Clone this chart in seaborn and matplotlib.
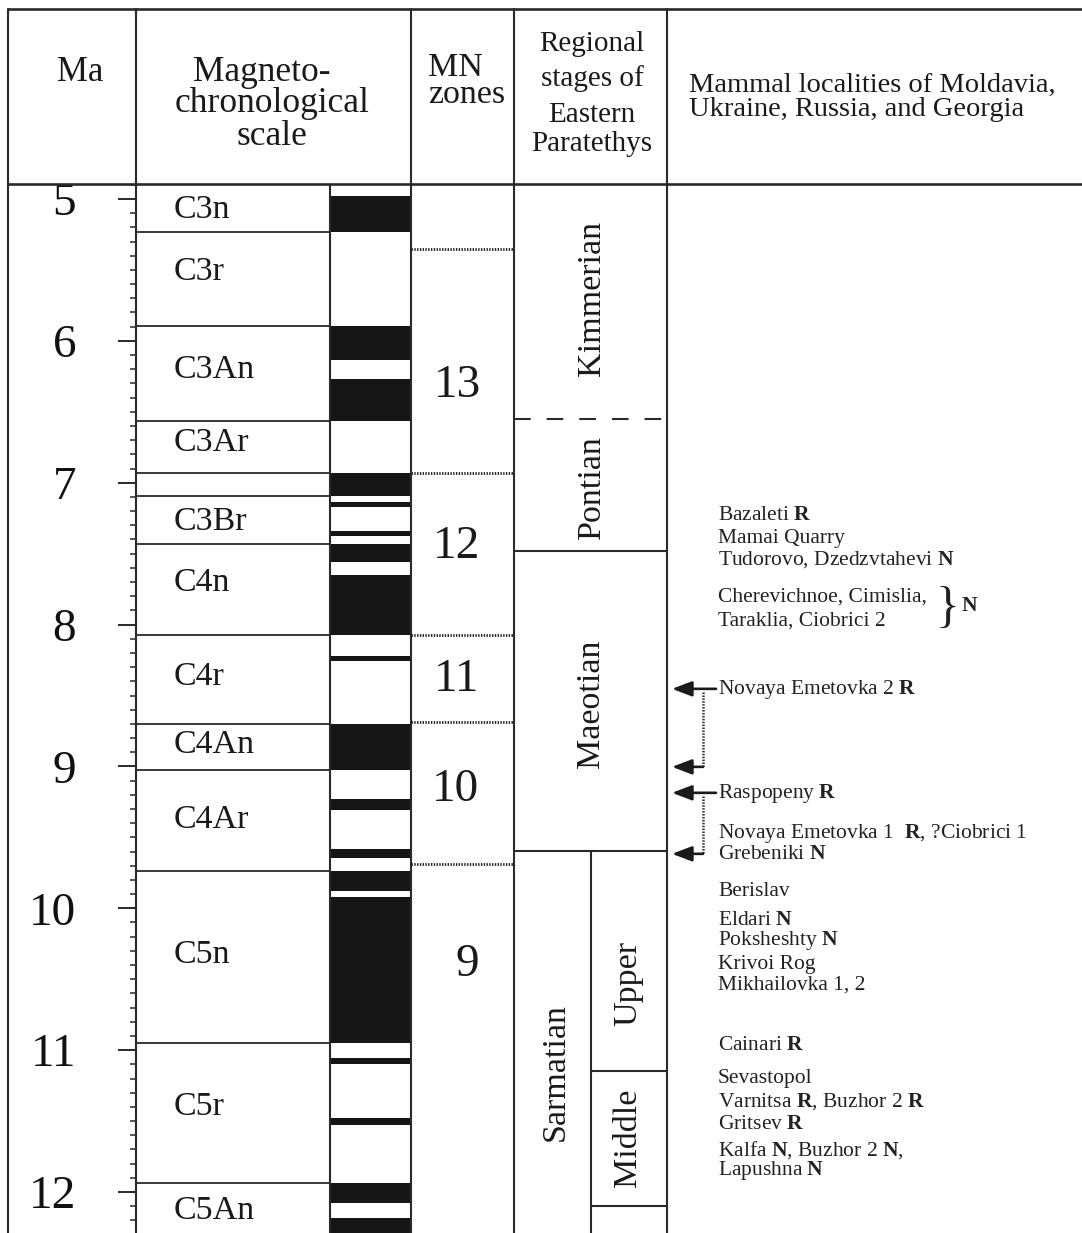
import numpy as np
import matplotlib
matplotlib.use("Agg")
import matplotlib.pyplot as plt
from matplotlib.ticker import MultipleLocator
import seaborn as sns

# ---------------- data ----------------
ma_ticks = [5, 6, 7, 8, 9, 10, 11, 12]

chron_names = ["C3n", "C3r", "C3An", "C3Ar", "C3Br", "C4n", "C4r", "C4An",
               "C4Ar", "C5n", "C5r", "C5An"]
chron_label_ma = [5.078, 5.514, 6.205, 6.72, 7.275, 7.706, 8.369, 8.848,
                  9.376, 10.328, 11.399, 12.132]
chron_boundaries = [5.23, 5.894, 6.567, 6.935, 7.091, 7.432, 8.072, 8.699,
                    9.025, 9.740, 10.949, 11.935]

# normal-polarity intervals (black)
normal_top = [4.98, 5.894, 6.269, 6.935, 7.135, 7.341, 7.432, 7.650, 8.225,
              8.699, 9.230, 9.580, 9.740, 9.920, 11.052, 11.476, 11.935, 12.184]
normal_base = [5.23, 6.137, 6.567, 7.091, 7.170, 7.375, 7.562, 8.072, 8.257,
               9.025, 9.308, 9.642, 9.880, 10.949, 11.099, 11.531, 12.078, 12.401]

mn_zones = ["13", "12", "11", "10", "9"]
mn_label_ma = [6.318, 7.452, 8.390, 9.165, 10.398]
mn_label_x = [457, 457, 457, 455, 467]
mn_boundaries = [5.35, 6.93, 8.07, 8.69, 9.69]

stage_names = ["Kimmerian", "Pontian", "Maeotian", "Sarmatian"]
stage_label_ma = [5.698, 7.030, 8.559, 11.152]
stage_label_x = [592, 592, 591, 556]
stage_dashed = [6.55]
stage_solid = [7.481, 9.595]
substage_names = ["Upper", "Middle"]
substage_label_ma = [10.532, 11.617]
substage_boundaries = [11.145, 12.097]
sarmatian_top = 9.595

localities = [
    "Bazaleti $\\mathbf{R}$",
    "Mamai Quarry",
    "Tudorovo, Dzedzvtahevi $\\mathbf{N}$",
    "Cherevichnoe, Cimislia,",
    "Taraklia, Ciobrici 2",
    "Novaya Emetovka 2 $\\mathbf{R}$",
    "Raspopeny $\\mathbf{R}$",
    "Novaya Emetovka 1  $\\mathbf{R}$, ?Ciobrici 1",
    "Grebeniki $\\mathbf{N}$",
    "Berislav",
    "Eldari $\\mathbf{N}$",
    "Poksheshty $\\mathbf{N}$",
    "Krivoi Rog",
    "Mikhailovka 1, 2",
    "Cainari $\\mathbf{R}$",
    "Sevastopol",
    "Varnitsa $\\mathbf{R}$, Buzhor 2 $\\mathbf{R}$",
    "Gritsev $\\mathbf{R}$",
    "Kalfa $\\mathbf{N}$, Buzhor 2 $\\mathbf{N}$,",
    "Lapushna $\\mathbf{N}$",
]
locality_ma = [7.234, 7.396, 7.544, 7.805, 7.974, 8.460, 9.193, 9.475, 9.623,
               9.884, 10.088, 10.229, 10.398, 10.539, 10.969, 11.201, 11.364,
               11.526, 11.702, 11.850]

# arrows: (start Ma, end Ma) pairs linked by dotted line
arrow_pairs = [(8.453, 9.003), (9.186, 9.616)]

# ---------------- style ----------------
sns.set_theme(style="white")
plt.rcParams["font.family"] = ["Liberation Serif", "DejaVu Serif"]
plt.rcParams["mathtext.fontset"] = "custom"
plt.rcParams["mathtext.rm"] = "Liberation Serif"
plt.rcParams["mathtext.it"] = "Liberation Serif:italic"
plt.rcParams["mathtext.bf"] = "Liberation Serif:bold"
plt.rcParams["lines.scale_dashes"] = False

LC = "#2a2a2a"
BLK = "#161616"
LW = 1.5

W, H = 1082, 1233
HEAD = 184
fig = plt.figure(figsize=(W / 100, H / 100), dpi=100)
fig.patch.set_facecolor("white")

y_top = 5 + (HEAD - 199) / 141.86
y_bot = 5 + (H - 199) / 141.86

# ---------------- data axes ----------------
ax = fig.add_axes([0, 0, 1, (H - HEAD) / H])
ax.set_facecolor("white")
ax.set_xlim(0, W)
ax.set_ylim(y_bot, y_top)
sns.despine(ax=ax, top=True, right=True, bottom=True, left=False)
ax.spines["left"].set_position(("data", 136))
ax.spines["left"].set_color(LC)
ax.spines["left"].set_linewidth(LW)
ax.set_xticks([])
ax.set_yticks(ma_ticks)
ax.set_yticklabels([str(v) for v in ma_ticks])
ax.yaxis.set_minor_locator(MultipleLocator(0.1))
ax.tick_params(axis="y", which="major", direction="out", length=13, width=1.4,
               pad=30, labelsize=34, color=LC, labelcolor="#111", left=True)
ax.tick_params(axis="y", which="minor", direction="out", length=4.5, width=1.1,
               color=LC, left=True)

# polarity column
ax.bar(x=[370.5] * len(normal_top),
       height=np.subtract(normal_base, normal_top),
       bottom=normal_top, width=81, color=BLK, linewidth=0, zorder=2)

# column borders
ax.vlines([8, 330, 411, 514, 667], y_top, y_bot, color=LC, lw=LW, zorder=3)
ax.vlines([591], sarmatian_top, y_bot, color=LC, lw=LW, zorder=3)

# chron boundaries
ax.hlines(chron_boundaries, 136, 330, color=LC, lw=1.3, zorder=3)
for name, m in zip(chron_names, chron_label_ma):
    ax.text(174, m, name, fontsize=24.5, ha="left", va="center", color="#1a1a1a")

# MN zones
ax.hlines(mn_boundaries, 411, 514, color="#222", lw=2.0,
          linestyles=[(0, (1.0, 1.0))], zorder=3)
for name, m, x in zip(mn_zones, mn_label_ma, mn_label_x):
    ax.text(x, m, name, fontsize=34, ha="center", va="center", color="#1a1a1a")

# regional stages
ax.hlines(stage_dashed, 514, 667, color=LC, lw=LW, linestyles=[(0, (12, 11.5))], zorder=3)
ax.hlines(stage_solid, 514, 667, color=LC, lw=LW, zorder=3)
ax.hlines(substage_boundaries, 591, 667, color=LC, lw=LW, zorder=3)
for name, m, x in zip(stage_names, stage_label_ma, stage_label_x):
    ax.text(x, m, name, fontsize=24.5, rotation=90, ha="center", va="center",
            color="#1a1a1a")
for name, m in zip(substage_names, substage_label_ma):
    ax.text(628, m, name, fontsize=24.5, rotation=90, ha="center", va="center",
            color="#1a1a1a")

# localities
for txt, m in zip(localities, locality_ma):
    ax.text(718, m, txt, fontsize=15.5, ha="left", va="center", color="#222")
ax.text(947, 7.885, "}", fontsize=36, ha="center", va="center", color="#222")
ax.text(961, 7.872, "$\\mathbf{N}$", fontsize=15.5, ha="left", va="center", color="#222")

# arrows
aprops = dict(arrowstyle="-|>,head_length=1.0,head_width=0.38", lw=1.9,
              color="#1a1a1a", shrinkA=0, shrinkB=0)
for a, b in arrow_pairs:
    ax.annotate("", xy=(672, a), xytext=(716, a), arrowprops=aprops,
                annotation_clip=False)
    ax.annotate("", xy=(672, b), xytext=(703, b), arrowprops=aprops,
                annotation_clip=False)
    ax.plot([703, 703], [a + 0.02, b], color="#333", lw=1.8,
            linestyle=(0, (1.1, 1.0)))

# ---------------- header axes ----------------
hax = fig.add_axes([0, (H - HEAD) / H, 1, HEAD / H])
hax.set_xlim(0, W)
hax.set_ylim(HEAD, 0)
hax.axis("off")
hax.plot([8, W], [9, 9], color=LC, lw=LW + 0.4, clip_on=False)
hax.plot([8, W], [HEAD, HEAD], color=LC, lw=LW + 0.4, clip_on=False)
for x in [8, 136, 411, 514, 667]:
    hax.plot([x, x], [9, HEAD], color=LC, lw=LW, clip_on=False)

hkw = dict(color="#1a1a1a", va="baseline")
hax.text(80, 81, "Ma", fontsize=25, ha="center", **hkw)
hax.text(262, 81, "Magneto-", fontsize=25.5, ha="center", **hkw)
hax.text(272, 112, "chronological", fontsize=25.5, ha="center", **hkw)
hax.text(272, 145, "scale", fontsize=25.5, ha="center", **hkw)
hax.text(428, 103, "MN\nzones", fontsize=24.5, ha="left", multialignment="left",
         linespacing=0.85, **hkw)
for s, yb in zip(["Regional", "stages of", "Eastern", "Paratethys"], [51, 86, 122, 151]):
    hax.text(592, yb, s, fontsize=21, ha="center", **hkw)
hax.text(689, 92, "Mammal localities of Moldavia,", fontsize=20.5, ha="left", **hkw)
hax.text(689, 116, "Ukraine, Russia, and Georgia", fontsize=20.5, ha="left", **hkw)

fig.savefig("out.png", dpi=100, facecolor="white")
